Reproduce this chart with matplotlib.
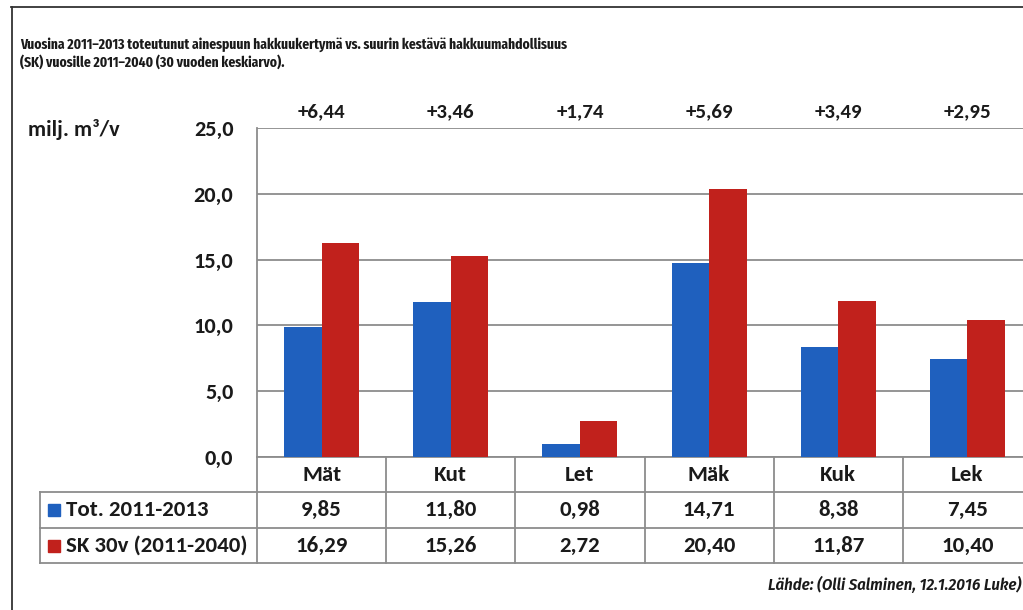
import matplotlib
matplotlib.use("Agg")
import numpy as np
import matplotlib.pyplot as plt
from matplotlib.lines import Line2D
from matplotlib.patches import Rectangle
import matplotlib.transforms as mtransforms

# data
categories = ["Mät", "Kut", "Let", "Mäk", "Kuk", "Lek"]
tot_2011_2013 = [9.85, 11.80, 0.98, 14.71, 8.38, 7.45]
sk_30v = [16.29, 15.26, 2.72, 20.40, 11.87, 10.40]
series_labels = ["Tot. 2011-2013", "SK 30v (2011-2040)"]
yticks = [0, 5, 10, 15, 20, 25]

title_lines = ["Vuosina 2011–2013 toteutunut ainespuun hakkuukertymä vs. suurin kestävä hakkuumahdollisuus",
               "(SK) vuosille 2011–2040 (30 vuoden keskiarvo)."]
unit = "milj. m³/v"
source = "Lähde: (Olli Salminen, 12.1.2016 Luke)"

BLUE = "#1f60be"
RED = "#c1211c"
GRID = "#8c8c8c"
TXT = "#1a1a1a"
FONT = ["Carlito", "Open Sans"]

W, H = 1023, 610


def fx(px):
    return px / W


def fy(py):
    return 1 - py / H


def fmt(v):
    return f"{v:.2f}".replace(".", ",")


fig = plt.figure(figsize=(W / 100, H / 100), dpi=100)

# outer frame (cut by the image on the right and bottom)
fig.add_artist(Line2D([fx(11.5), fx(11.5)], [fy(7), 0], color="#333333", lw=1.3))
fig.add_artist(Line2D([fx(11), 1], [fy(7), fy(7)], color="#333333", lw=1.3))

for py, line in zip([49, 67], title_lines):
    fig.text(fx(20), fy(py), line, ha="left", va="baseline", fontsize=10.6,
             fontweight="bold", family="Fira Sans Extra Condensed", color=TXT)

# plot area, right edge runs past the image
left, right, top, bottom = 257, 1032, 128, 457
ax = fig.add_axes([fx(left), fy(bottom), (right - left) / W, (bottom - top) / H])
x = np.arange(len(categories))
bw = 0.29
ax.bar(x - bw / 2, tot_2011_2013, width=bw, color=BLUE, zorder=3)
ax.bar(x + bw / 2, sk_30v, width=bw, color=RED, zorder=3)
ax.set_xlim(-0.5, len(categories) - 0.5)
ax.set_ylim(0, 25)
ax.set_yticks(yticks)
ax.set_yticklabels([f"{t:.1f}".replace(".", ",") for t in yticks],
                   fontsize=16, fontweight="semibold", family=FONT, color=TXT)
ax.tick_params(axis="y", length=0, pad=17)
ax.set_xticks([])
ax.grid(axis="y", color=GRID, lw=1.3, zorder=0)
for s in ["top", "right"]:
    ax.spines[s].set_visible(False)
ax.spines["left"].set_color(GRID)
ax.spines["bottom"].set_color(GRID)
ax.spines["left"].set_linewidth(1.3)
ax.spines["bottom"].set_linewidth(1.3)

fig.text(fx(28), fy(129), unit, ha="left", va="center", fontsize=16,
         fontweight="semibold", family=FONT, color=TXT)

# differences above the plot
xt = mtransforms.blended_transform_factory(ax.transData, fig.transFigure)
for i, (a, b) in enumerate(zip(tot_2011_2013, sk_30v)):
    ax.text(i, fy(112), "+" + fmt(b - a), transform=xt, ha="center", va="center",
            fontsize=15, fontweight="semibold", family=FONT, color=TXT, clip_on=False)

# data table under the axis
row_y = [457, 492, 528, 563]
lc = dict(color=GRID, lw=1.3)
for py in row_y[1:]:
    fig.add_artist(Line2D([fx(40), 1], [fy(py), fy(py)], **lc))
fig.add_artist(Line2D([fx(40), fx(40)], [fy(492), fy(563)], **lc))
for i in range(len(categories) + 1):
    ax.add_artist(Line2D([i - 0.5, i - 0.5], [fy(457), fy(563)], transform=xt,
                         clip_on=False, **lc))

tkw = dict(transform=xt, ha="center", va="center", fontsize=16.5,
           fontweight="semibold", family=FONT, color=TXT, clip_on=False)
for i, cat in enumerate(categories):
    ax.text(i, fy(475), cat, **tkw)
    ax.text(i, fy(510), fmt(tot_2011_2013[i]), **tkw)
    ax.text(i, fy(546), fmt(sk_30v[i]), **tkw)

for py, col, lab in zip([510, 546], [BLUE, RED], series_labels):
    fig.add_artist(Rectangle((fx(48), fy(py + 6)), 12 / W, 12 / H, color=col))
    fig.text(fx(66), fy(py), lab, ha="left", va="center", fontsize=16.5,
             fontweight="semibold", family=FONT, color=TXT)

fig.text(fx(768), fy(585), source, ha="left", va="center", fontsize=12,
         fontweight="semibold", fontstyle="italic", family="Fira Sans Condensed", color=TXT)

fig.savefig("out.png", dpi=100)
